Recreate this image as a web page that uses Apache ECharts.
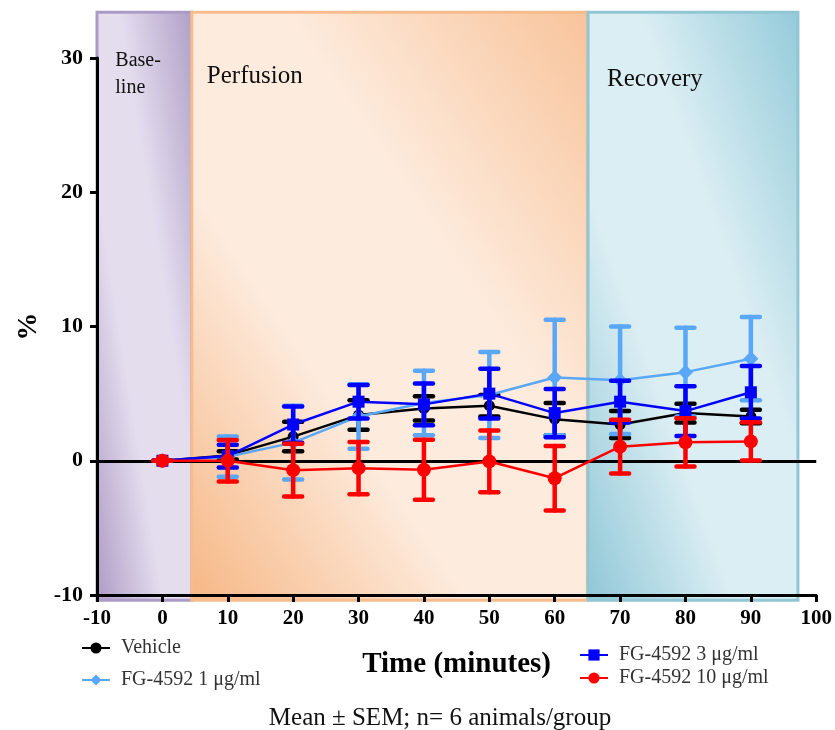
<!DOCTYPE html>
<html>
<head>
<meta charset="utf-8">
<title>FG-4592 perfusion</title>
<script src="https://cdn.jsdelivr.net/npm/echarts@6/dist/echarts.min.js"></script>
<style>
  html, body { margin: 0; padding: 0; background: #fff; }
  #chart { width: 835px; height: 730px; }
</style>
</head>
<body>
<div id="chart"></div>
<script>
// time points (minutes)
var times = [0, 10, 20, 30, 40, 50, 60, 70, 80, 90];

// % change, mean and SEM per group
var vehicleMean = [0, 0.4, 1.8, 3.4, 3.9, 4.1, 3.1, 2.7, 3.55, 3.3];
var vehicleSem  = [0, 0.3, 1.1, 1.1, 0.9, 0.8, 1.2, 1.0, 0.7, 0.5];
var fg1Mean = [0, 0.3, 1.35, 3.3, 4.3, 4.9, 6.2, 6.0, 6.6, 7.6];
var fg1Sem  = [0, 1.5, 2.75, 2.4, 2.4, 3.2, 4.3, 4.0, 3.3, 3.1];
var fg3Mean = [0, 0.35, 2.7, 4.4, 4.2, 5.0, 3.55, 4.4, 3.7, 5.1];
var fg3Sem  = [0, 0.85, 1.35, 1.25, 1.55, 1.85, 1.8, 1.55, 1.85, 1.95];
var fg10Mean = [0, 0, -0.7, -0.55, -0.67, -0.05, -1.3, 1.05, 1.37, 1.44];
var fg10Sem  = [0, 1.55, 1.97, 1.95, 2.23, 2.3, 2.4, 2.0, 1.8, 1.42];

var groupNames = ['Vehicle', 'FG-4592 1 \u03bcg/ml', 'FG-4592 3 \u03bcg/ml', 'FG-4592 10 \u03bcg/ml'];

// phase bands: [start, end] in minutes, plus vertical extent in %
var phaseNames = ['Base-\nline', 'Perfusion', 'Recovery'];
var phaseRanges = [[-10, 4.5], [4.5, 65], [65.1, 97.2]];
var phaseTop = 33.4;
var phaseBottom = -10.4;

var serif = '"Liberation Serif", "Times New Roman", serif';

var chart = echarts.init(document.getElementById('chart'));

function pairs(mean) {
    return times.map(function (t, i) { return [t, mean[i]]; });
}
function bars(mean, sem) {
    return times.map(function (t, i) { return [t, mean[i] - sem[i], mean[i] + sem[i]]; });
}

function errorRender(color) {
    return function (params, api) {
        var x = api.value(0);
        var lo = api.coord([x, api.value(1)]);
        var hi = api.coord([x, api.value(2)]);
        var half = 9;
        var st = { stroke: color, lineWidth: 4.5, lineCap: 'round' };
        return {
            type: 'group',
            children: [
                { type: 'line', shape: { x1: lo[0], y1: lo[1], x2: hi[0], y2: hi[1] }, style: st },
                { type: 'line', shape: { x1: hi[0] - half, y1: hi[1], x2: hi[0] + half, y2: hi[1] }, style: st },
                { type: 'line', shape: { x1: lo[0] - half, y1: lo[1], x2: lo[0] + half, y2: lo[1] }, style: st }
            ]
        };
    };
}

var groups = [
    { name: groupNames[0], mean: vehicleMean, sem: vehicleSem, color: '#000000', symbol: 'circle', size: 11 },
    { name: groupNames[1], mean: fg1Mean, sem: fg1Sem, color: '#5aa7f7', symbol: 'diamond', size: 15 },
    { name: groupNames[2], mean: fg3Mean, sem: fg3Sem, color: '#0000ff', symbol: 'rect', size: 12 },
    { name: groupNames[3], mean: fg10Mean, sem: fg10Sem, color: '#ff0000', symbol: 'circle', size: 14 }
];

var series = [];
groups.forEach(function (g, k) {
    series.push({
        name: g.name + ' SEM',
        type: 'custom',
        renderItem: errorRender(g.color),
        data: bars(g.mean, g.sem),
        encode: { x: 0, y: [1, 2] },
        silent: true,
        z: 2 + k * 2
    });
    var s = {
        name: g.name,
        type: 'line',
        data: pairs(g.mean),
        symbol: g.symbol,
        symbolSize: g.size,
        showAllSymbol: true,
        itemStyle: { color: g.color },
        lineStyle: { color: g.color, width: 2.5 },
        z: 3 + k * 2
    };
    if (k === 0) {
        s.markLine = {
            silent: true,
            symbol: 'none',
            label: { show: false },
            lineStyle: { color: '#000', width: 3, type: 'solid' },
            data: [{ yAxis: 0 }]
        };
    }
    series.push(s);
});

var legendText = { fontFamily: serif, fontSize: 20, color: '#333', padding: [0, 0, 0, 6] };

var option = {
    animation: false,
    grid: { left: 97, right: 18, top: 58, bottom: 135 },
    xAxis: {
        type: 'value',
        min: -10,
        max: 100,
        interval: 10,
        name: 'Time (minutes)',
        nameLocation: 'middle',
        nameGap: 55,
        nameTextStyle: { fontFamily: serif, fontSize: 29, fontWeight: 'bold', color: '#000' },
        axisLine: { onZero: false, lineStyle: { color: '#000', width: 3 } },
        axisTick: { length: 7, lineStyle: { color: '#000', width: 3 } },
        axisLabel: { margin: 13, fontFamily: serif, fontSize: 21, fontWeight: 'bold', color: '#000' },
        splitLine: { show: false }
    },
    yAxis: {
        type: 'value',
        min: -10,
        max: 30,
        interval: 10,
        name: '%',
        nameLocation: 'middle',
        nameRotate: 90,
        nameGap: 52,
        nameTextStyle: { fontFamily: serif, fontSize: 28, fontWeight: 'bold', color: '#000' },
        axisLine: { show: true, onZero: false, lineStyle: { color: '#000', width: 3 } },
        axisTick: { show: true, length: 7, lineStyle: { color: '#000', width: 3 } },
        axisLabel: { margin: 14, fontFamily: serif, fontSize: 22, fontWeight: 'bold', color: '#000' },
        splitLine: { show: false }
    },
    legend: [
        {
            data: [groupNames[0], groupNames[1]],
            orient: 'vertical',
            left: 76,
            top: 633,
            itemWidth: 28,
            itemHeight: 14,
            itemGap: 12,
            textStyle: legendText
        },
        {
            data: [groupNames[2], groupNames[3]],
            orient: 'vertical',
            left: 574,
            top: 640,
            itemWidth: 28,
            itemHeight: 14,
            itemGap: 3,
            textStyle: legendText
        }
    ],
    series: series
};

chart.setOption(option);

// phase backgrounds and captions, placed through the axes
var bandFills = [
    ['#ae9cc5', '#e4ddee', '#b0a0c7'],
    ['#f6b785', '#fdebdd', '#f8c49b'],
    ['#90c7d7', '#dbeef3', '#95cbda']
];
var bandStrokes = ['#ab9cc6', '#f7bc8e', '#91c6d4'];
var graphics = [];
phaseRanges.forEach(function (r, i) {
    var a = chart.convertToPixel({ gridIndex: 0 }, [r[0], phaseTop]);
    var b = chart.convertToPixel({ gridIndex: 0 }, [r[1], phaseBottom]);
    var w = b[0] - a[0], h = b[1] - a[1];
    // diagonal shading: bottom-left and top-right darker, light along the other diagonal
    var cx = a[0] + w / 2, cy = a[1] + h / 2;
    var n = Math.sqrt(w * w + h * h);
    var ux = h / n, uy = -w / n, L = w * h / n;
    var grad = new echarts.graphic.LinearGradient(
        cx - ux * L, cy - uy * L, cx + ux * L, cy + uy * L, [
            { offset: 0, color: bandFills[i][0] },
            { offset: 0.35, color: bandFills[i][1] },
            { offset: 0.62, color: bandFills[i][1] },
            { offset: 1, color: bandFills[i][2] }
        ], true);
    graphics.push({
        type: 'rect',
        z: -10,
        silent: true,
        shape: { x: a[0], y: a[1], width: w, height: h },
        style: { fill: grad, stroke: bandStrokes[i], lineWidth: 3 }
    });
});
var capPos = [[-7.2, 28.8], [6.8, 28.6], [68, 28.4]];
var capSize = [20, 25, 25];
phaseNames.forEach(function (name, i) {
    var p = chart.convertToPixel({ gridIndex: 0 }, capPos[i]);
    graphics.push({
        type: 'text',
        z: 50,
        silent: true,
        x: p[0],
        y: p[1],
        style: {
            text: name,
            font: capSize[i] + 'px ' + serif,
            fill: '#111',
            lineHeight: 27,
            verticalAlign: 'middle'
        }
    });
});
graphics.push({
    type: 'text',
    silent: true,
    x: 440,
    y: 718,
    style: {
        text: 'Mean \u00b1 SEM; n= 6 animals/group',
        font: '25px ' + serif,
        fill: '#111',
        align: 'center',
        verticalAlign: 'middle'
    }
});
chart.setOption({ graphic: graphics });
</script>
</body>
</html>
